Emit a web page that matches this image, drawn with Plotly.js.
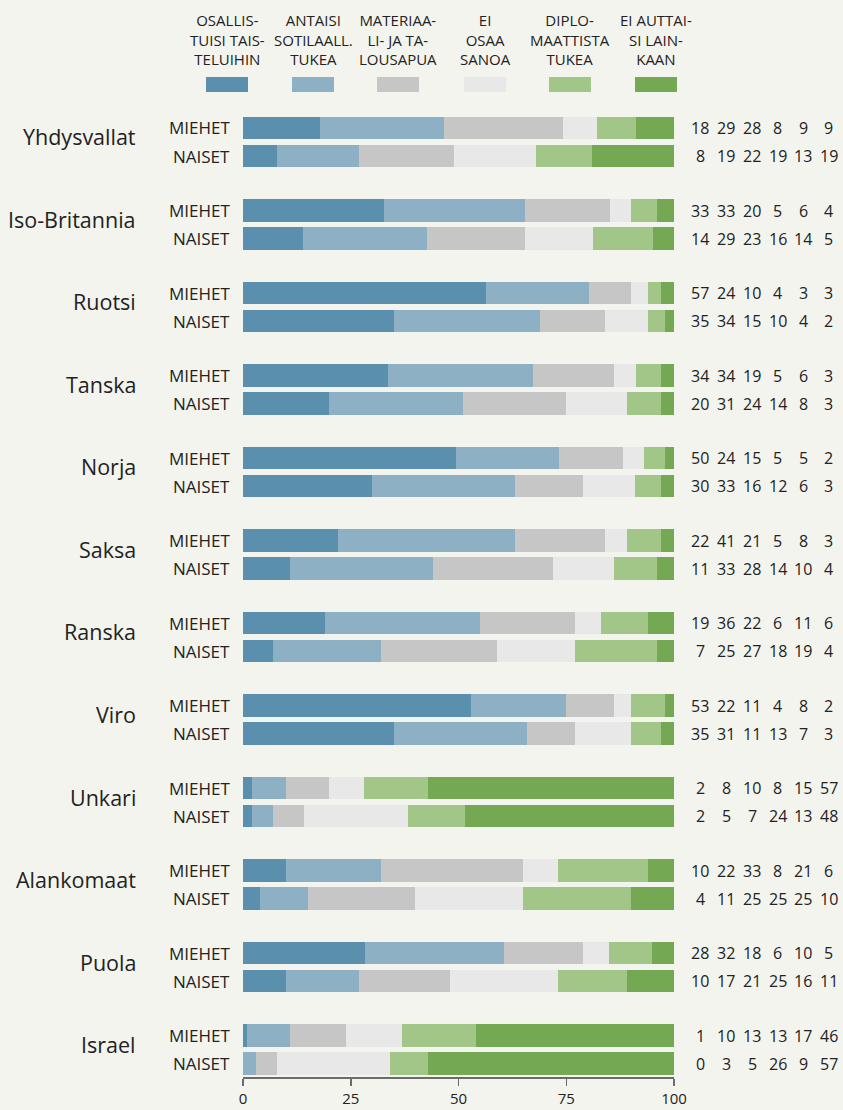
<!DOCTYPE html>
<html>
<head>
<meta charset="utf-8">
<script src="https://cdn.plot.ly/plotly-3.0.1.min.js"></script>
<style>
  html, body { margin: 0; padding: 0; background: #F4F4EF; }
  #chart { width: 843px; height: 1110px; }
</style>
</head>
<body>
<div id="chart"></div>
<script>
// ---- DATA ----
var countries = ['Yhdysvallat','Iso-Britannia','Ruotsi','Tanska','Norja','Saksa','Ranska','Viro','Unkari','Alankomaat','Puola','Israel'];
var groups = ['MIEHET','NAISET'];
var seriesNames = ['OSALLIS-<br>TUISI TAIS-<br>TELUIHIN','ANTAISI<br>SOTILAALL.<br>TUKEA','MATERIAA-<br>LI- JA TA-<br>LOUSAPUA','EI<br>OSAA<br>SANOA','DIPLO-<br>MAATTISTA<br>TUKEA','EI AUTTAI-<br>SI LAIN-<br>KAAN'];
var seriesColors = ['#5A8FAE','#8DB0C4','#C6C6C6','#E8E8E8','#A2C588','#74A852'];

var osallistuisi_m = [18,33,57,34,50,22,19,53,2,10,28,1];
var osallistuisi_n = [8,14,35,20,30,11,7,35,2,4,10,0];
var sotilaallinen_m = [29,33,24,34,24,41,36,22,8,22,32,10];
var sotilaallinen_n = [19,29,34,31,33,33,25,31,5,11,17,3];
var materiaali_m = [28,20,10,19,15,21,22,11,10,33,18,13];
var materiaali_n = [22,23,15,24,16,28,27,11,7,25,21,5];
var eiosaa_m = [8,5,4,5,5,5,6,4,8,8,6,13];
var eiosaa_n = [19,16,10,14,12,14,18,13,24,25,25,26];
var diplo_m = [9,6,3,6,5,8,11,8,15,21,10,17];
var diplo_n = [13,14,4,8,6,10,19,7,13,25,16,9];
var eiauta_m = [9,4,3,3,2,3,6,2,57,6,5,46];
var eiauta_n = [19,5,2,3,3,4,4,3,48,10,11,57];

var menSeries = [osallistuisi_m, sotilaallinen_m, materiaali_m, eiosaa_m, diplo_m, eiauta_m];
var womenSeries = [osallistuisi_n, sotilaallinen_n, materiaali_n, eiosaa_n, diplo_n, eiauta_n];

// ---- LAYOUT HELPERS ----
var G = 2.946; // group pitch in row units
function yPos(i, g) { return i * G + g; }

var W = 843, H = 1110;
var mL = 243, mR = 169, mT = 112, mB = 33;
var plotW = W - mL - mR;
var font = "'Open Sans', 'Noto Sans', sans-serif";
var txtColor = '#222222';

var traces = [];
for (var s = 0; s < seriesNames.length; s++) {
  var xs = [], ys = [];
  for (var i = 0; i < countries.length; i++) {
    xs.push(menSeries[s][i]); ys.push(yPos(i, 0));
    xs.push(womenSeries[s][i]); ys.push(yPos(i, 1));
  }
  traces.push({
    type: 'bar', orientation: 'h', x: xs, y: ys,
    width: 0.79,
    marker: { color: seriesColors[s], line: { width: 0 } },
    name: seriesNames[s].replace(/<br>/g, ' '),
    showlegend: false,
    hoverinfo: 'x+name'
  });
}

var annotations = [];
var shapes = [];
function px2paper(px) { return (px - mL) / plotW; }

// country & group labels, right-hand numbers
var numCols = [700, 726, 752, 777.5, 803, 828.5];
for (var i = 0; i < countries.length; i++) {
  annotations.push({
    xref: 'paper', yref: 'y', x: px2paper(138), y: yPos(i, 0.32),
    text: countries[i], showarrow: false, xanchor: 'right', yanchor: 'middle',
    font: { family: font, size: 21.5, color: txtColor }
  });
  for (var g = 0; g < 2; g++) {
    annotations.push({
      xref: 'paper', yref: 'y', x: px2paper(232), y: yPos(i, g),
      text: groups[g], showarrow: false, xanchor: 'right', yanchor: 'middle',
      font: { family: font, size: 17, color: txtColor }
    });
    var src = g === 0 ? menSeries : womenSeries;
    for (var s = 0; s < seriesNames.length; s++) {
      annotations.push({
        xref: 'paper', yref: 'y', x: px2paper(numCols[s]), y: yPos(i, g),
        text: String(src[s][i]), showarrow: false, xanchor: 'center', yanchor: 'middle',
        font: { family: font, size: 16, color: txtColor }
      });
    }
  }
}

// custom legend at top
var legCenters = [227, 313, 398, 485, 570, 656];
for (var s = 0; s < seriesNames.length; s++) {
  annotations.push({
    xref: 'paper', yref: 'paper', x: px2paper(legCenters[s]), y: 1 + (mT - 39.5) / (H - mT - mB),
    text: seriesNames[s], showarrow: false, xanchor: 'center', yanchor: 'middle',
    align: 'center',
    font: { family: font, size: 15, color: txtColor }
  });
  shapes.push({
    type: 'rect', xref: 'paper', yref: 'paper',
    x0: px2paper(legCenters[s] - 21), x1: px2paper(legCenters[s] + 21),
    y0: 1 + (mT - 92) / (H - mT - mB), y1: 1 + (mT - 77) / (H - mT - mB),
    fillcolor: seriesColors[s], line: { width: 0 }
  });
}

var layout = {
  width: W, height: H,
  margin: { l: mL, r: mR, t: mT, b: mB },
  paper_bgcolor: '#F4F4EF', plot_bgcolor: '#F4F4EF',
  barmode: 'stack', barnorm: 'percent',
  showlegend: false,
  font: { family: font, color: txtColor },
  xaxis: {
    range: [0, 100], tickvals: [0, 25, 50, 75, 100], ticktext: ['0','25','50','75','100'],
    ticks: 'outside', ticklen: 7, tickwidth: 1.5, tickcolor: '#6b6b6b',
    showline: true, linecolor: '#6b6b6b', linewidth: 1.5,
    showgrid: false, zeroline: false, fixedrange: true,
    tickfont: { family: font, size: 15, color: txtColor }
  },
  yaxis: {
    range: [yPos(11, 1) + 0.48, -0.571],
    showticklabels: false, showgrid: false, zeroline: false, showline: false, ticks: '',
    fixedrange: true
  },
  annotations: annotations,
  shapes: shapes
};

Plotly.newPlot('chart', traces, layout, { displayModeBar: false, staticPlot: true });
</script>
</body>
</html>
